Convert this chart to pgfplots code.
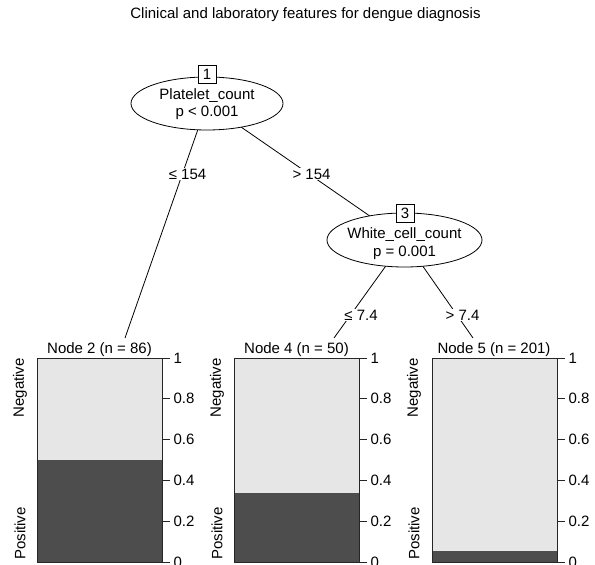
\documentclass[border=0pt]{standalone}
\usepackage{pgfplots}
\pgfplotsset{compat=1.18}
\usepackage{fontspec}
\setmainfont{Liberation Sans}

\definecolor{negfill}{HTML}{E6E6E6}
\definecolor{posfill}{HTML}{4D4D4D}

% one terminal node: stacked bar of class proportions, axis on the right
\pgfplotsset{
  nodepanel/.style={
    anchor=south west, scale only axis,
    width=125pt, height=204pt,
    xmin=0, xmax=1, ymin=0, ymax=1,
    xtick=\empty, ytick={0,0.2,0.4,0.6,0.8,1},
    ytick pos=right, tick align=outside, major tick length=8pt,
    yticklabel style={/pgf/number format/assume math mode=true,
      font=\fontsize{15}{18}\selectfont},
    ybar stacked, bar width=1,
    axis on top,
    axis line style={black!85, line width=0.8pt},
    tick style={black!85, line width=0.8pt},
  }
}

\begin{document}
\begin{tikzpicture}[x=1pt, y=1pt, font=\fontsize{15}{18}\selectfont]
\path[use as bounding box] (0,0) rectangle (595,565);

% title
\node at (305.5,550) {Clinical and laboratory features for dengue diagnosis};

% edges
\begin{scope}[line width=0.8pt]
\draw (207,461.5) -- (125,227);
\draw (207,461.5) -- (404.5,325);
\draw (404.5,325) -- (334,227);
\draw (404.5,325) -- (473,227);
\end{scope}
\node[fill=white, inner sep=1pt] at (187.5,391) {≤ 154};
\node[fill=white, inner sep=1pt] at (311.5,391) {> 154};
\node[fill=white, inner sep=1pt] at (361,250) {≤ 7.4};
\node[fill=white, inner sep=1pt] at (462.5,250) {> 7.4};

% inner node 1
\draw[line width=0.8pt, fill=white] (207,461.5) ellipse [x radius=76, y radius=26.5];
\node[draw, line width=0.8pt, fill=white, minimum size=18pt, inner sep=0pt] at (207,491) {1};
\node at (207,469) {Platelet\_count};
\node at (207,452) {p < 0.001};

% inner node 3
\draw[line width=0.8pt, fill=white] (404.5,325) ellipse [x radius=77.5, y radius=27];
\node[draw, line width=0.8pt, fill=white, minimum size=18pt, inner sep=0pt] at (405,351.5) {3};
\node at (404.5,330) {White\_cell\_count};
\node at (404.5,312) {p = 0.001};

% terminal node 2
\begin{axis}[nodepanel, at={(37pt,3pt)}]
\addplot[fill=posfill, draw=none] coordinates {(0.5,0.500)};
\addplot[fill=negfill, draw=none] coordinates {(0.5,0.500)};
\end{axis}
\node[anchor=south, inner sep=1.5pt] at (99.5,207) {Node 2 (n = 86)};
\node[rotate=90, anchor=east, inner sep=0pt] at (20,207) {Negative};
\node[rotate=90, anchor=west, inner sep=0pt] at (20,5) {Positive};

% terminal node 4
\begin{axis}[nodepanel, at={(234pt,3pt)}]
\addplot[fill=posfill, draw=none] coordinates {(0.5,0.340)};
\addplot[fill=negfill, draw=none] coordinates {(0.5,0.660)};
\end{axis}
\node[anchor=south, inner sep=1.5pt] at (296.5,207) {Node 4 (n = 50)};
\node[rotate=90, anchor=east, inner sep=0pt] at (217,207) {Negative};
\node[rotate=90, anchor=west, inner sep=0pt] at (217,5) {Positive};

% terminal node 5
\begin{axis}[nodepanel, at={(432pt,3pt)}]
\addplot[fill=posfill, draw=none] coordinates {(0.5,0.055)};
\addplot[fill=negfill, draw=none] coordinates {(0.5,0.945)};
\end{axis}
\node[anchor=south, inner sep=1.5pt] at (494,207) {Node 5 (n = 201)};
\node[rotate=90, anchor=east, inner sep=0pt] at (414,207) {Negative};
\node[rotate=90, anchor=west, inner sep=0pt] at (414,5) {Positive};
\end{tikzpicture}
\end{document}
